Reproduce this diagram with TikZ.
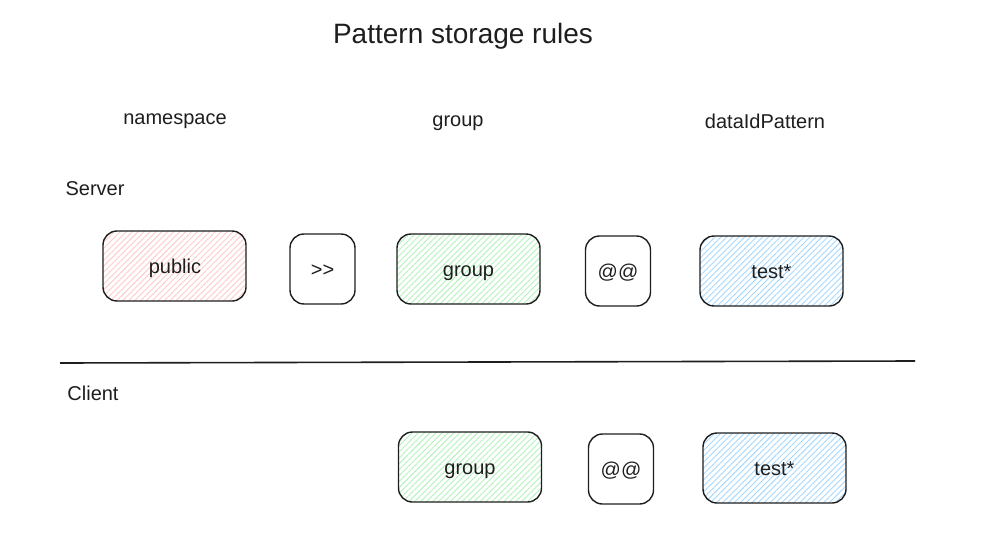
\documentclass[tikz,border=0pt]{standalone}
\usepackage{fontspec}
\setmainfont{Liberation Sans}[Ligatures=ResetAll]
\usetikzlibrary{patterns.meta}
\definecolor{ink}{HTML}{1E1E1E}
\definecolor{hred}{HTML}{FFC9C9}
\definecolor{hgreen}{HTML}{B2F2BB}
\definecolor{hblue}{HTML}{A5D8FF}
\tikzset{
  lbl/.style={text=ink,font=\fontsize{20}{24}\selectfont,inner sep=0pt,text height=14pt,text depth=4pt},
  ttl/.style={text=ink,font=\fontsize{28}{32}\selectfont,inner sep=0pt,text height=20pt,text depth=6pt},
  box/.style={draw=ink,line width=1.4pt,rounded corners=14pt,minimum height=70pt,
    text=ink,font=\fontsize{20}{24}\selectfont,inner sep=0pt,text height=14pt,text depth=4pt},
  wide/.style={box,minimum width=143pt},
  small/.style={box,minimum width=65pt},
  hatch/.style={pattern={Lines[angle=45,distance=4.2pt,line width=0.9pt]},pattern color=#1},
}
\begin{document}
\begin{tikzpicture}[x=1pt,y=-1pt]
\useasboundingbox (0,0) rectangle (985,554);
\node[ttl] (title) at (463,36) {Pattern storage rules};
\node[lbl] (ns) at (175,119) {namespace};
\node[lbl] (grp) at (458,121) {group};
\node[lbl] (dip) at (765,123) {dataIdPattern};
\node[lbl] (server) at (95,190) {Server};
\node[lbl] (client) at (93,395) {Client};

\node[wide,hatch=hred] (public) at (174.5,266) {};
\node[lbl] (publict) at (175,268) {public};
\node[small] (sep1) at (322.5,269) {};
\node[lbl] (sep1t) at (322.5,271) {{>}{>}};
\node[wide,hatch=hgreen] (sgroup) at (468.5,269) {};
\node[lbl] (sgroupt) at (468.5,271) {group};
\node[small] (sep2) at (618,271) {};
\node[lbl] (sep2t) at (618,273) {@@};
\node[wide,hatch=hblue] (stest) at (771.5,271) {};
\node[lbl] (stestt) at (771.5,273) {test*};

\coordinate (l1) at (60,363);
\coordinate (l2) at (915,361);
\draw[ink,line width=1.6pt] (l1) -- (l2);

\node[wide,hatch=hgreen] (cgroup) at (470,467) {};
\node[lbl] (cgroupt) at (470,469) {group};
\node[small] (csep) at (621,469) {};
\node[lbl] (csept) at (621,471) {@@};
\node[wide,hatch=hblue] (ctest) at (774.5,468) {};
\node[lbl] (ctestt) at (774.5,470) {test*};
\end{tikzpicture}
\end{document}
